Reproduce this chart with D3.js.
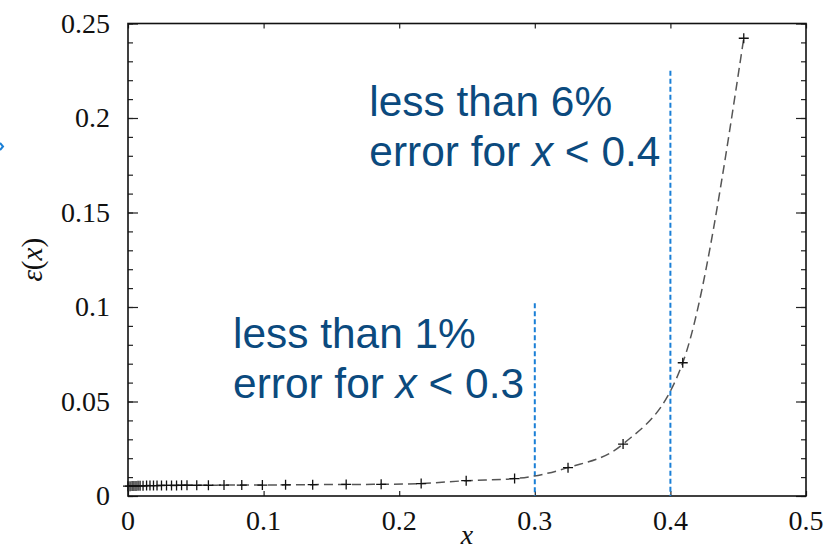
<!DOCTYPE html>
<html>
<head>
<meta charset="utf-8">
<script src="https://cdn.jsdelivr.net/npm/d3@7"></script>
<style>
  body { margin: 0; background: #fff; }
  svg { display: block; }
  .tick-label { font-family: "Liberation Serif", "DejaVu Serif", serif; font-size: 28px; fill: #111; }
  .note { font-family: "Liberation Sans", Arial, sans-serif; font-size: 42.4px; fill: #0b4a7e; }
</style>
</head>
<body>
<div id="chart"></div>
<script>
// sample points
var xValues = [0, 0.0015, 0.003, 0.0044, 0.0059, 0.0074, 0.0089, 0.0111, 0.0137, 0.0162,
    0.0188, 0.0214, 0.0247, 0.0284, 0.0321, 0.0358, 0.0395, 0.0435, 0.0507, 0.0593,
    0.0708, 0.0839, 0.0991, 0.1162, 0.1362, 0.1609, 0.1867, 0.2162, 0.2494, 0.2851,
    0.3245, 0.3651, 0.4091, 0.4541];
var epsValues = [0.0052, 0.0052, 0.0053, 0.0053, 0.0053, 0.0054, 0.0054, 0.0054, 0.0055, 0.0055,
    0.0055, 0.0055, 0.0056, 0.0056, 0.0056, 0.0056, 0.0057, 0.0057, 0.0057, 0.0057,
    0.0058, 0.0058, 0.0058, 0.0059, 0.0060, 0.0061, 0.0062, 0.0066, 0.0081, 0.0092,
    0.0150, 0.0275, 0.0705, 0.2422];

var xTicks = [0, 0.1, 0.2, 0.3, 0.4, 0.5];
var yTicks = [0, 0.05, 0.1, 0.15, 0.2, 0.25];
var yMinorTicks = d3.range(0, 0.2501, 0.01);

var thresholds = [0.3, 0.4];
var thresholdTops = [0.102, 0.225];
var notes = [
    { lines: ["less than 1%", "error for ", "x", " < 0.3"], x: 0.0775, y: 0.0785 },
    { lines: ["less than 6%", "error for ", "x", " < 0.4"], x: 0.178, y: 0.2009 }
];

var width = 838, height = 550;
var margin = { top: 23.5, right: 32, bottom: 54, left: 128 };

var svg = d3.select("#chart").append("svg")
    .attr("width", width)
    .attr("height", height);

var x = d3.scaleLinear().domain([0, 0.5]).range([margin.left, width - margin.right]);
var y = d3.scaleLinear().domain([0, 0.25]).range([height - margin.bottom, margin.top]);

var fmt = function (d) { return d === 0 ? "0" : String(+d.toFixed(2)); };

// axes: ticks inward on all four sides
svg.append("g")
    .attr("transform", "translate(0," + y(0) + ")")
    .call(d3.axisBottom(x).tickValues(xTicks).tickSize(-5).tickFormat(""));
svg.append("g")
    .attr("transform", "translate(0," + y(0.25) + ")")
    .call(d3.axisTop(x).tickValues(xTicks).tickSize(-5).tickFormat(""));
svg.append("g")
    .attr("transform", "translate(" + x(0) + ",0)")
    .call(d3.axisLeft(y).tickValues(yMinorTicks).tickSize(-5).tickFormat(""));
svg.append("g")
    .attr("transform", "translate(" + x(0) + ",0)")
    .call(d3.axisLeft(y).tickValues(yTicks).tickSize(-10).tickFormat(""));
svg.append("g")
    .attr("transform", "translate(" + x(0.5) + ",0)")
    .call(d3.axisRight(y).tickValues(yMinorTicks).tickSize(-5).tickFormat(""));
svg.append("g")
    .attr("transform", "translate(" + x(0.5) + ",0)")
    .call(d3.axisRight(y).tickValues(yTicks).tickSize(-10).tickFormat(""));
svg.selectAll(".domain").remove();
svg.selectAll(".tick line").attr("stroke", "#222").attr("stroke-width", 1.2);

svg.append("rect")
    .attr("x", x(0)).attr("y", y(0.25))
    .attr("width", x(0.5) - x(0)).attr("height", y(0) - y(0.25))
    .attr("fill", "none").attr("stroke", "#111").attr("stroke-width", 1.6);

svg.selectAll(".xl").data(xTicks).enter().append("text")
    .attr("class", "tick-label")
    .attr("x", function (d) { return x(d); })
    .attr("y", y(0) + 34)
    .attr("text-anchor", "middle")
    .text(fmt);

svg.selectAll(".yl").data(yTicks).enter().append("text")
    .attr("class", "tick-label")
    .attr("x", x(0) - 18)
    .attr("y", function (d) { return y(d) + 9; })
    .attr("text-anchor", "end")
    .text(fmt);

svg.append("text")
    .attr("class", "tick-label")
    .attr("x", x(0.25))
    .attr("y", 544)
    .attr("text-anchor", "middle")
    .style("font-style", "italic")
    .text("x");

var yLab = svg.append("text")
    .attr("class", "tick-label")
    .attr("transform", "translate(42," + y(0.125) + ") rotate(-90)")
    .attr("text-anchor", "middle")
    .style("font-size", "29px");
yLab.append("tspan").style("font-style", "italic").text("ε");
yLab.append("tspan").text("(");
yLab.append("tspan").style("font-style", "italic").text("x");
yLab.append("tspan").text(")");

// threshold markers
svg.selectAll(".thr").data(thresholds).enter().append("line")
    .attr("x1", function (d) { return x(d); })
    .attr("x2", function (d) { return x(d); })
    .attr("y1", function (d, i) { return y(thresholdTops[i]); })
    .attr("y2", y(0))
    .attr("stroke", "#1a7fd6")
    .attr("stroke-width", 2)
    .attr("stroke-dasharray", "5,3");

// error curve
var pts = xValues.map(function (d, i) { return [d, epsValues[i]]; });
var line = d3.line()
    .x(function (d) { return x(d[0]); })
    .y(function (d) { return y(d[1]); })
    .curve(d3.curveMonotoneX);

svg.append("path")
    .datum(pts)
    .attr("d", line)
    .attr("fill", "none")
    .attr("stroke", "#555")
    .attr("stroke-width", 1.5)
    .attr("stroke-dasharray", "9,5");

svg.selectAll(".pt").data(pts).enter().append("path")
    .attr("transform", function (d) { return "translate(" + x(d[0]) + "," + y(d[1]) + ")"; })
    .attr("d", "M-5,0H5M0,-5V5")
    .attr("stroke", "#111")
    .attr("stroke-width", 1.3);

// annotations
notes.forEach(function (n) {
    var t = svg.append("text").attr("class", "note")
        .attr("x", x(n.x)).attr("y", y(n.y));
    t.text(n.lines[0]);
    var t2 = svg.append("text").attr("class", "note")
        .attr("x", x(n.x)).attr("y", y(n.y) + 50);
    t2.append("tspan").text(n.lines[1]);
    t2.append("tspan").style("font-style", "italic").text(n.lines[2]);
    t2.append("tspan").text(n.lines[3]);
});

// stray arrow tip at the left edge
svg.append("path")
    .attr("d", "M0,143 L3,146.5 L0,150")
    .attr("fill", "none")
    .attr("stroke", "#1a7fd6")
    .attr("stroke-width", 2);
</script>
</body>
</html>
